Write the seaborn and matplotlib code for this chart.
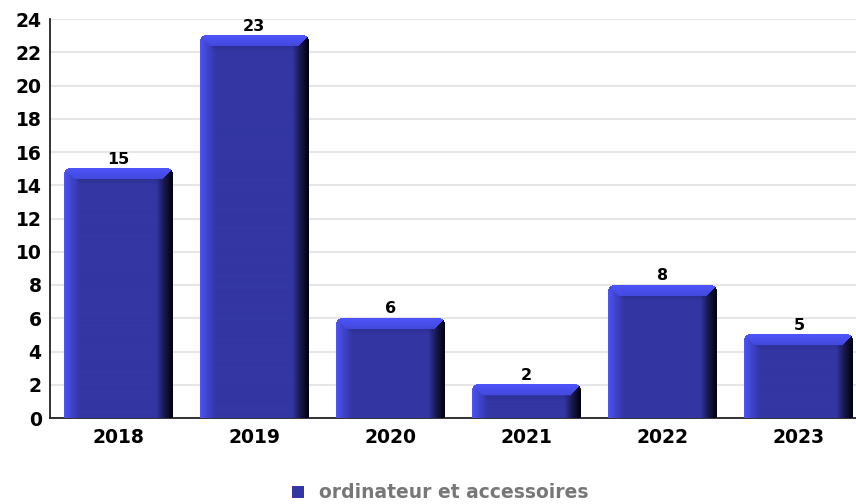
import numpy as np
import pandas as pd
import matplotlib
matplotlib.use("Agg")
import matplotlib.pyplot as plt
import seaborn as sns
from matplotlib.patches import Patch

# --- data ---------------------------------------------------------------
years = ["2018", "2019", "2020", "2021", "2022", "2023"]
counts = [15, 23, 6, 2, 8, 5]
series_name = "ordinateur et accessoires"
y_ticks = list(range(0, 25, 2))

df = pd.DataFrame({"year": years, "count": counts})

sns.set_theme(style="white")
plt.rcParams['font.family'] = ['DejaVu Sans']

FACE = np.array([51, 54, 163]) / 255
LIGHT = np.array([78, 84, 248]) / 255
TOP = np.array([66, 72, 220]) / 255
DARK = np.array([4, 4, 18]) / 255


def bevel_image(wp, hp):
    """RGBA image imitating a bevelled 3D bar (pixel sized)."""
    ii = np.arange(wp)[None, :] * np.ones((hp, 1))
    jj = np.arange(hp)[:, None] * np.ones((1, wp))
    r = wp - 1 - ii
    bl, bt, br = 16.0, 11.0, 16.0
    col = np.ones((hp, wp, 3)) * FACE
    # left bevel: bright edge fading into the face
    fl = np.clip(ii / bl, 0, 1)[..., None] ** 0.8
    left_col = LIGHT * (1 - fl) + FACE * fl
    # right bevel: face fading into near black
    fr = np.clip(r / br, 0, 1)[..., None] ** 1.3
    right_col = DARK * (1 - fr) + FACE * fr
    # top bevel
    ft = np.clip(jj / bt, 0, 1)[..., None]
    top_col = LIGHT * (1 - ft) + TOP * ft

    left = ii < bl
    right = r < br
    top = jj < bt
    col = np.where(left[..., None], left_col, col)
    col = np.where(right[..., None], right_col, col)
    top_mask = top & ~(left & (ii < jj)) & ~(right & (r < jj))
    col = np.where(top_mask[..., None], top_col, col)
    # soft shade just under the top bevel
    sh = (jj >= bt) & (jj < bt + 5) & (ii >= jj) & (r >= jj)
    g = ((jj - bt) / 5.0)[..., None]
    col = np.where(sh[..., None], col * (0.9 + 0.1 * g), col)

    img = np.ones((hp, wp, 4))
    img[..., :3] = np.clip(col, 0, 1)
    # rounded top corners
    rad = 4.0
    d_l = np.hypot(ii - rad, jj - rad)
    d_r = np.hypot(ii - (wp - 1 - rad), jj - rad)
    cut = ((ii < rad) & (jj < rad) & (d_l > rad)) | \
          ((ii > wp - 1 - rad) & (jj < rad) & (d_r > rad))
    img[..., 3] = np.where(cut, 0, 1)
    return img


fig = plt.figure(figsize=(8.56, 5.04), dpi=100)
ax = fig.add_axes([50 / 856, 86 / 504, 817 / 856, 399 / 504])

sns.barplot(data=df, x="year", y="count", color=FACE, width=0.8,
            saturation=1, ax=ax, zorder=2)

ax.set_xlim(-0.5, 5.5)
ax.set_ylim(0, 24)

# overlay bevel gradient on each bar
for p in ax.patches:
    x0, y0, w, h = p.get_x(), p.get_y(), p.get_width(), p.get_height()
    (px0, py0), (px1, py1) = ax.transData.transform([(x0, y0), (x0 + w, y0 + h)])
    wp = max(int(round(px1 - px0)), 2)
    hp = max(int(round(py1 - py0)), 2)
    ax.imshow(bevel_image(wp, hp), extent=[x0, x0 + w, y0, y0 + h],
              aspect='auto', zorder=3, interpolation='bilinear')
    p.set_alpha(0)

ax.set_xlim(-0.5, 5.5)
ax.set_ylim(0, 24)

# value labels
for i, v in enumerate(counts):
    ax.annotate(str(v), (i, v), xytext=(0, 1.5), textcoords='offset points',
                ha='center', va='bottom', fontsize=11.5, fontweight='bold',
                color='black', zorder=4)

ax.set_xlabel("")
ax.set_ylabel("")
ax.set_yticks(y_ticks)
ax.set_yticklabels([str(t) for t in y_ticks], fontsize=13.5, fontweight='bold')
ax.set_xticks(range(len(years)))
ax.set_xticklabels(years, fontsize=13.5, fontweight='bold')
ax.set_xticks(np.arange(0.5, len(years), 1.0), minor=True)
ax.tick_params(axis='x', which='major', length=0, pad=7, colors='black')
ax.tick_params(axis='x', which='minor', length=3, width=1.2, direction='out',
               color='#333333')
ax.tick_params(axis='y', length=3, width=1.2, direction='out', pad=3,
               colors='black')

ax.yaxis.grid(True, color='#e6e6e6', linewidth=1.5)
ax.set_axisbelow(True)
sns.despine(ax=ax, top=True, right=True)
for s in ('left', 'bottom'):
    ax.spines[s].set_color('#222222')
    ax.spines[s].set_linewidth(1.3)

handles = [Patch(facecolor=FACE, edgecolor='none')]
leg = fig.legend(handles, [series_name], loc='center',
                 bbox_to_anchor=(440 / 856, 11 / 504), frameon=False,
                 handlelength=0.65, handleheight=0.65, handletextpad=0.8,
                 prop={'size': 13.5, 'weight': 'bold'})
for t in leg.get_texts():
    t.set_color('#777777')

fig.savefig("out.png", dpi=100)
